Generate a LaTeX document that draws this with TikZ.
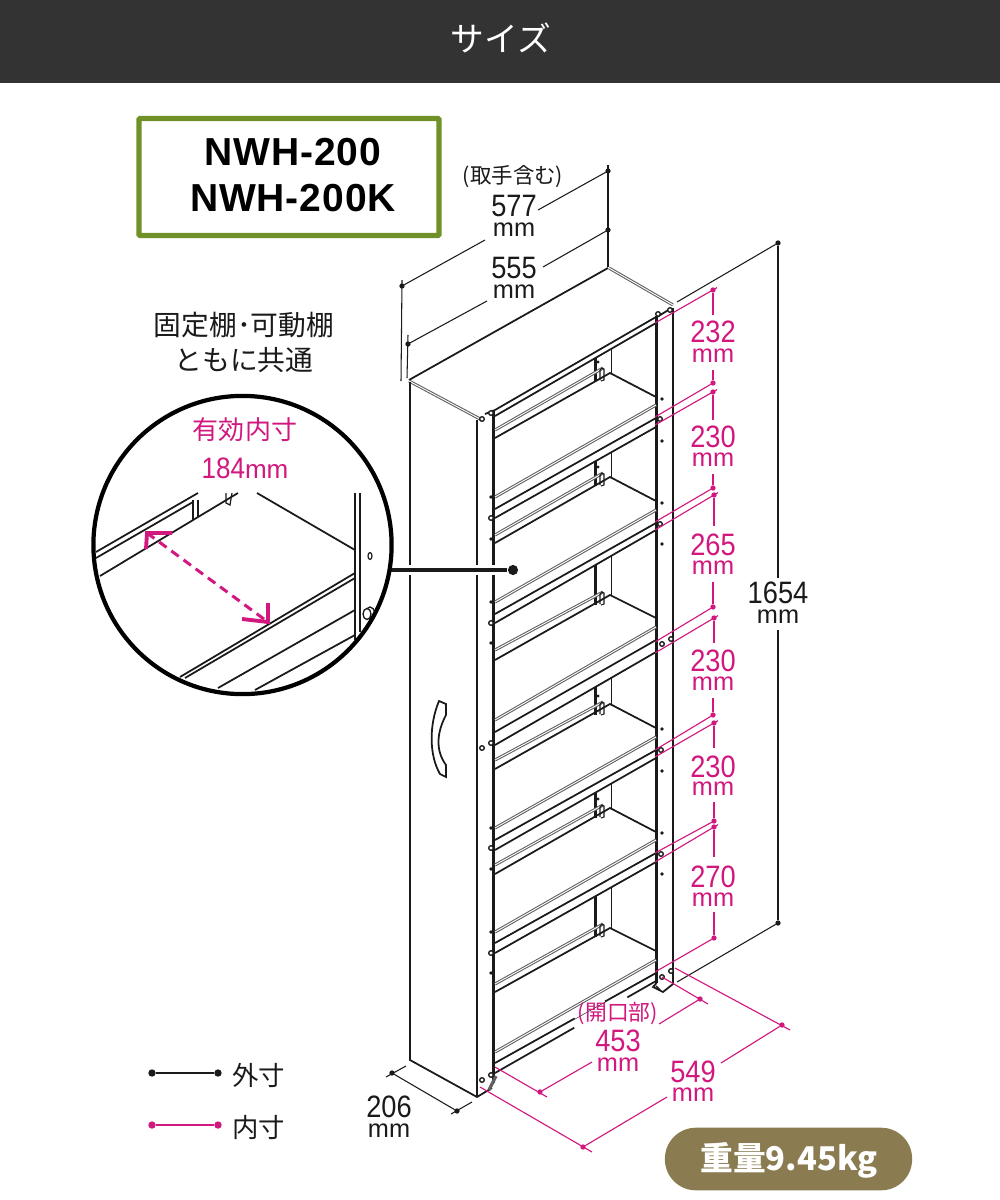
\documentclass[tikz,border=0pt]{standalone}
\usepackage{fontspec}
\usetikzlibrary{calc}
\setmainfont{Liberation Sans}
\newfontfamily\dimf[FakeStretch=0.88]{Liberation Sans}
\newfontfamily\modelf[LetterSpace=2.2]{Liberation Sans}
\newfontfamily\jpf{Noto Sans CJK JP}
\definecolor{pk}{HTML}{D2177F}
\definecolor{hdr}{HTML}{333333}
\definecolor{grn}{HTML}{6F9127}
\definecolor{olv}{HTML}{8A7C50}
\definecolor{gry}{HTML}{5F5F5F}
\definecolor{ink}{HTML}{1A1A1A}
\tikzset{
  ln/.style={line width=.5pt,ink},
  hv/.style={line width=.85pt,ink},
  thn/.style={line width=.34pt,ink},
  rail/.style={line width=.3pt,gry,double=white,double distance=.26pt},
  dimk/.style={line width=.3pt,ink},
  dimp/.style={line width=.32pt,pk},
  dotk/.style={circle,fill=ink,inner sep=0,outer sep=0,minimum size=1.5pt},
  dotp/.style={circle,fill=pk,inner sep=0,outer sep=0,minimum size=1.5pt},
  numk/.style={font=\dimf\fontsize{8.8}{9}\selectfont,inner sep=0,text=ink},
  mmk/.style={font=\rmfamily\fontsize{7.2}{8}\selectfont,inner sep=0,text=ink},
  nump/.style={numk,text=pk},
  mmp/.style={mmk,text=pk},
  jp/.style={font=\jpf\fontsize{7.9}{9}\selectfont,inner sep=0,text=ink},
  hole/.style={line width=.38pt,ink,fill=white},
  pin/.style={fill=ink},
}
\begin{document}
\begin{tikzpicture}[x=0.01cm,y=-0.01cm]
\useasboundingbox (0,0) rectangle (1000,1200);
\fill[white] (0,0) rectangle (1000,1200);
% header
\fill[hdr] (0,0) rectangle (1000,83);
\node[font=\jpf\fontsize{9.6}{10}\selectfont,text=white,inner sep=0] (title) at (501,38) {サイズ};
% model box
\node[draw=grn,line width=1.5pt,rounded corners=.3pt,minimum width=85.3pt,minimum height=33.3pt,inner sep=0,outer sep=0] (modelbox) at (289,177) {};
\node[font=\modelf\bfseries\fontsize{11.1}{13.3}\selectfont,align=center,inner sep=0,text=black] (model) at (293,175) {NWH-200\\NWH-200K};
\node[jp] (common1) at (244,325) {固定棚･可動棚};
\node[jp] (common2) at (244,360) {ともに共通};

% cabinet
\draw[ln] (409,380) -- (608,268);
\draw[rail] (409,381) -- (482,420);
\draw[rail] (609,268) -- (673,305);
\draw[ln] (410,382) -- (410,1060) -- (477,1097) -- (492,1088);
\draw[ln] (477,420) -- (477,1097);
\draw[hv] (493.5,411) -- (493.5,1083);
\draw[hv] (656.5,316) -- (656.5,983);
\draw[ln] (673,308) -- (673,984) -- (663,992) -- (653,987) -- (656.5,983);
\draw[ln] (485,414) -- (495,410);
\draw[ln] (657,317) -- (670,309);
% handle
\draw[ln] (439,701) -- (446,704) -- (446,715) .. controls (437,732) and (435,750) .. (446,765) -- (446,777) -- (440,774) .. controls (429,755) and (429,725) .. cycle;
% shelves: grey L/R, b1 L/R, b2 L/R, rail L, hook, black L, corner, right, back pin
\foreach \gL/\gR/\aL/\aR/\bL/\bR/\rL/\rH/\kL/\kC/\kR/\bp in {
  0/0/410/317/416/323/430/368/438/373/397/1,
  497/405/509/418/518/427/535/473/543/477/501/1,
  602/510/614/523/623/530/650/592/660/595/618/0,
  720/627/732/640/745/652/760/702/769/704/728/1,
  828/737/840/750/850/758/865/805/874/808/832/1,
  932/840/943/853/953/862/984/924/992/928/951/0}{
  \ifnum\gL>0 \draw[rail] (495,\gL) -- (656,\gR); \fi
  \draw[ln] (495,\aL) -- (656,\aR);
  \draw[ln] (495,\bL) -- (656,\bR);
  \pgfmathsetmacro\yA{\bL+(\bR-\bL)*100/161}
  \pgfmathsetmacro\yB{\bL+(\bR-\bL)*116/161}
  \pgfmathsetmacro\yC{\rH+13}
  \draw[hv] (595,\yA) -- (595,\yC);
  \draw[ln] (611.5,\yB) -- (611.5,\kC);
  \draw[rail] (495,\rL) -- (603,\rH);
  \draw[ln] (495,\kL) -- (610,\kC) -- (656,\kR);
  \draw[line width=.3pt,ink] (600,\rH+12) -- (600,\rH+2) -- (602,\rH) -- (604,\rH+1) -- (604,\rH+12) -- (601,\rH+13);
  \ifnum\bp=1 \fill[pin] (598,\rH-6) circle [radius=1.6]; \fi
}
\draw[rail] (495,1052) -- (656,960);
\draw[ln] (495,1063) -- (656,973);
\draw[ln] (495,1073) -- (656,981);
% small fittings, left column
\foreach \yy in {497,539,602,643,828,869,932,973} \fill[pin] (491,\yy) circle [radius=1.9];
\foreach \yy in {518,623,743,848,953,1075,413} \draw[hole] (491,\yy) circle [radius=2.3];
\foreach \yy in {748,1080,419} \draw[hole] (482,\yy) circle [radius=2.3];
% right column
\foreach \yy in {399,441,503,544,729,771,833,874} \fill[pin] (662,\yy) circle [radius=1.9];
\foreach \xx/\yy in {660/419,660/524,662/644,671/639,661/750,661/854,662/977,671/971,658/314,670/310} \draw[hole] (\xx,\yy) circle [radius=2.3];
\draw[line width=.9pt,gry] (496,1076) -- (489,1090);
\draw[ln] (656,986) -- (660,990);

% leader to detail
\draw[white,line width=2.6pt] (398,570) -- (505,570);
\node[circle,fill=ink,inner sep=0,minimum size=2.9pt] (ldot) at (513,570) {};
% detail circle contents
\begin{scope}
\clip (242.5,545) circle [radius=149];
\draw[ln] (96,552) -- (198,493);
\draw[ln] (96,558) -- (193,502);
\draw[ln] (100,576) -- (238,493);
\draw[thn] (193,500) -- (193,520) (198,500) -- (198,517);
\draw[thn] (226,493) -- (226,503) -- (230,505) -- (232,493);
\draw[ln] (257,493) -- (355,550);
\draw[ln] (355,493) -- (355,640);
\draw[thn] (360,493) -- (360,632);
\draw[thn] (370,556) circle [x radius=2,y radius=3.5];
\draw[hole] (370,613) circle [x radius=4.5,y radius=6];
\draw[hole] (367,614) circle [x radius=4,y radius=5.5];
\draw[ln] (180,677) -- (355,573);
\draw[ln] (185,678) -- (355,578);
\draw[ln] (218,688) -- (355,610);
\draw[ln] (255,690) -- (355,635);
\end{scope}
\draw[line width=.95pt,ink] (389,570) -- (ldot);
\node[draw=black,line width=1.2pt,circle,minimum size=84.8pt,inner sep=0,outer sep=0] (loupe) at (242.5,545) {};
% arrow in detail
\path (147,533) coordinate (aA) (268,622) coordinate (aB) (172,533) coordinate (aA1) (146,549) coordinate (aA2) (242,619) coordinate (aB1) (268,603) coordinate (aB2);
\draw[pk,line width=.85pt,dash pattern=on 2.6pt off 1.7pt] (aA) -- (aB);
\draw[pk,line width=1.1pt] (aA1) -- (aA) -- (aA2);
\draw[pk,line width=1.1pt] (aB1) -- (aB) -- (aB2);
\node[jp,text=pk,font=\jpf\fontsize{7.4}{9}\selectfont] (eff) at (245,430) {有効内寸};
\node[inner sep=0,text=pk] (effv) at (245,468) {\dimf\fontsize{8.4}{9}\selectfont 184\rmfamily\fontsize{7.4}{9}\selectfont mm};

% black dimensions
\node[dotk] (w577r) at (608,171) {};
\node[dotk] (w577l) at (402,286) {};
\coordinate (g1a) at (485,240); \coordinate (g1b) at (538,210);
\draw[dimk] (w577l) -- (g1a) (g1b) -- (w577r);
\node[dotk] (w555r) at (608,230) {};
\node[dotk] (w555l) at (408,344) {};
\coordinate (g2a) at (487,301); \coordinate (g2b) at (543,267);
\draw[dimk] (w555l) -- (g2a) (g2b) -- (w555r);
\coordinate (e1) at (608,165); \coordinate (e2) at (608,267);
\draw[dimk] (e1) -- (e2);
\coordinate (e3) at (402,280); \coordinate (e4) at (401,381);
\draw[dimk] (e3) -- (e4);
\coordinate (e5) at (408,335); \coordinate (e6) at (407,378);
\draw[dimk] (e5) -- (e6);
\node[dotk] (h0) at (778,243) {};
\node[dotk] (h1) at (778,923) {};
\coordinate (g3a) at (778,578); \coordinate (g3b) at (778,630);
\draw[dimk] (h0) -- (g3a) (g3b) -- (h1);
\coordinate (e7) at (677,302); \coordinate (e8) at (677,982);
\draw[dimk] (h0) -- (e7) (h1) -- (e8);
\node[dotk] (d0) at (392,1073) {};
\node[dotk] (d1) at (457,1111) {};
\draw[dimk] (d0) -- (d1);
\coordinate (e9) at (386,1077); \coordinate (e10) at (406,1066);
\coordinate (e11) at (451,1114); \coordinate (e12) at (472,1102);
\draw[dimk] (e9) -- (e10) (e11) -- (e12);

% pink vertical dimensions
\foreach \nm/\xa/\ya/\ea/\xb/\yb/\eb/\ga/\gb in {
  A/713/290/323/713/383/417/315/370,
  B/713/392/425/713/488/522/420/474,
  C/714/495/530/713/607/642/526/582,
  D/714/618/653/713/715/750/643/698,
  E/714/723/757/714/821/853/748/802,
  F/714/827/862/714/938/972/857/912}{
  \node[dotp] (\nm a) at (\xa,\ya) {};
  \node[dotp] (\nm b) at (\xb,\yb) {};
  \coordinate (\nm c) at (\xa,\ga);
  \coordinate (\nm d) at (\xb,\gb);
  \coordinate (\nm e) at (655,\ea);
  \coordinate (\nm f) at (655,\eb);
  \draw[dimp] (\nm a) -- (\nm c) (\nm d) -- (\nm b);
  \draw[dimp] ($(\nm a)+(4,-2.4)$) -- (\nm e);
  \draw[dimp] (\nm b) -- (\nm f);
}

% white gap for bottom shelf behind label
\draw[white,line width=1.3pt] (574,1027) -- (627,997);
\draw[white,line width=1.1pt] (574,1017) -- (604,1000);
% pink bottom dimensions
\node[dotp] (o0) at (700,999) {};
\node[dotp] (o1) at (540,1092) {};
\coordinate (g4a) at (592,1062); \coordinate (g4b) at (659,1024);
\draw[dimp] (o1) -- (g4a) (g4b) -- (o0);
\coordinate (e13) at (708,1004); \coordinate (e14) at (662,977);
\coordinate (e15) at (547,1097); \coordinate (e16) at (495,1067);
\draw[dimp] (e13) -- (e14) (e15) -- (e16);
\node[dotp] (p0) at (782,1025) {};
\node[dotp] (p1) at (583,1147) {};
\coordinate (g5a) at (667,1097); \coordinate (g5b) at (721,1063);
\draw[dimp] (p1) -- (g5a) (g5b) -- (p0);
\coordinate (e17) at (790,1030); \coordinate (e18) at (675,968);
\coordinate (e19) at (592,1152); \coordinate (e20) at (480,1087);
\draw[dimp] (e17) -- (e18) (e19) -- (e20);

% labels
\node[jp,font=\jpf\fontsize{6.1}{8}\selectfont] (handlelbl) at (513,177) {(取手含む)};
\node[numk] (t577) at (514,206) {577};
\node[mmk] (t577m) at (514,230) {mm};
\node[numk] (t555) at (514,268) {555};
\node[mmk] (t555m) at (514,292) {mm};
\node[numk] (t1654) at (778,593) {1654};
\node[mmk] (t1654m) at (778,617) {mm};
\node[numk] (t206) at (389,1107) {206};
\node[mmk] (t206m) at (389,1131) {mm};
\foreach \nm/\vv/\yy/\yz in {a/232/332/356,b/230/437/460,c/265/545/568,d/230/661/684,e/230/767/789,f/270/877/900}{
  \node[nump] (v\nm) at (713,\yy) {\vv};
  \node[mmp] (m\nm) at (713,\yz) {mm};
}
\node[jp,text=pk,font=\jpf\fontsize{6.2}{8}\selectfont] (openlbl) at (618,1014) {(開口部)};
\node[nump] (t453) at (618,1041) {453};
\node[mmp] (t453m) at (618,1065) {mm};
\node[nump] (t549) at (693,1072) {549};
\node[mmp] (t549m) at (693,1095) {mm};

% legend
\node[dotk,minimum size=2.1pt] (lka) at (152,1073) {};
\node[dotk,minimum size=2.1pt] (lkb) at (218,1073) {};
\draw[ink,line width=.75pt] (lka) -- (lkb);
\node[jp,font=\jpf\fontsize{7.5}{9}\selectfont] (lkt) at (258.5,1075) {外寸};
\node[dotp,minimum size=2.1pt] (lpa) at (152,1125) {};
\node[dotp,minimum size=2.1pt] (lpb) at (218,1125) {};
\draw[pk,line width=.75pt] (lpa) -- (lpb);
\node[jp,font=\jpf\fontsize{7.5}{9}\selectfont] (lpt) at (258.5,1127) {内寸};
% weight badge
\node[fill=olv,rounded corners=8.8pt,minimum width=70.3pt,minimum height=17.8pt,inner sep=0,outer sep=0] (badge) at (788.5,1159) {};
\node[font=\jpf\bfseries\fontsize{9.3}{11}\selectfont,text=white,inner sep=0] (weight) at (789,1160) {重量9.45kg};
\end{tikzpicture}
\end{document}
